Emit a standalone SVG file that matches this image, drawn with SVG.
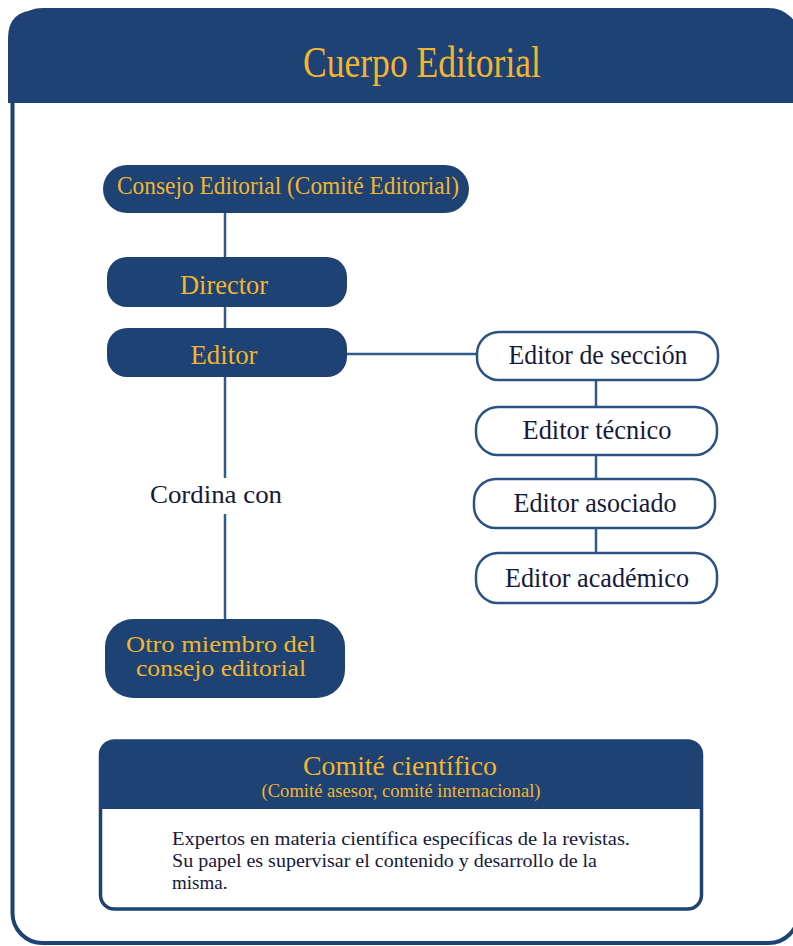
<svg xmlns="http://www.w3.org/2000/svg" width="793" height="946" viewBox="0 0 793 946">
<defs>
<style>
text{font-family:'Liberation Serif','DejaVu Serif','Times New Roman',serif;}
.dark{fill:#1d4273;}
.gold{fill:#f3b52f;text-anchor:middle;}
.ink{fill:#15193b;text-anchor:middle;}
.wbox{fill:#ffffff;stroke:#2a5384;stroke-width:2.5;}
.conn{stroke:#2f5a8a;stroke-width:2.5;fill:none;}
</style>
</defs>
<g id="frame">
<rect x="12.5" y="10" width="786" height="933" rx="30" fill="#ffffff" stroke="#1d4273" stroke-width="4"/>
<path class="dark" d="M8,103 L8,38 Q8,10 38,10 L768,10 Q798,10 798,40 L798,103 Z"/>
<text class="gold" x="422" y="77" font-size="45" textLength="238" lengthAdjust="spacingAndGlyphs">Cuerpo Editorial</text>
</g>
<g id="connectors">
<line class="conn" x1="225" y1="212" x2="225" y2="258"/>
<line class="conn" x1="225" y1="306" x2="225" y2="328"/>
<line class="conn" x1="225" y1="377" x2="225" y2="478"/>
<line class="conn" x1="225" y1="514" x2="225" y2="620"/>
<line class="conn" x1="336" y1="354" x2="478" y2="354"/>
<line class="conn" x1="596" y1="380" x2="596" y2="407"/>
<line class="conn" x1="596" y1="455" x2="596" y2="479"/>
<line class="conn" x1="596" y1="528" x2="596" y2="553"/>
</g>
<g id="consejo">
<rect class="dark" x="103" y="165" width="366" height="48" rx="24"/>
<text class="gold" x="288" y="194" font-size="25" textLength="342" lengthAdjust="spacingAndGlyphs">Consejo Editorial (Comité Editorial)</text>
</g>
<g id="director">
<rect class="dark" x="107" y="257" width="240" height="50" rx="20"/>
<text class="gold" x="224" y="294" font-size="27" textLength="88" lengthAdjust="spacingAndGlyphs">Director</text>
</g>
<g id="editor">
<rect class="dark" x="107" y="328" width="240" height="49" rx="20"/>
<text class="gold" x="224" y="364" font-size="27" textLength="67" lengthAdjust="spacingAndGlyphs">Editor</text>
</g>
<g id="cordina">
<text class="ink" x="216" y="503" font-size="26" textLength="132" lengthAdjust="spacingAndGlyphs">Cordina con</text>
</g>
<g id="otro">
<rect class="dark" x="105" y="619" width="240" height="79" rx="28"/>
<text class="gold" x="221" y="652" font-size="24" textLength="190" lengthAdjust="spacingAndGlyphs">Otro miembro del</text>
<text class="gold" x="221" y="676" font-size="24" textLength="170" lengthAdjust="spacingAndGlyphs">consejo editorial</text>
</g>
<g id="seccion">
<rect class="wbox" x="477" y="332" width="241" height="48" rx="22"/>
<text class="ink" x="598" y="364" font-size="27" textLength="179" lengthAdjust="spacingAndGlyphs">Editor de sección</text>
</g>
<g id="tecnico">
<rect class="wbox" x="476" y="407" width="241" height="48" rx="22"/>
<text class="ink" x="597" y="439" font-size="27" textLength="149" lengthAdjust="spacingAndGlyphs">Editor técnico</text>
</g>
<g id="asociado">
<rect class="wbox" x="474" y="479" width="241" height="49" rx="22"/>
<text class="ink" x="595" y="512" font-size="27" textLength="163" lengthAdjust="spacingAndGlyphs">Editor asociado</text>
</g>
<g id="academico">
<rect class="wbox" x="476" y="553" width="241" height="50" rx="22"/>
<text class="ink" x="597" y="587" font-size="27" textLength="184" lengthAdjust="spacingAndGlyphs">Editor académico</text>
</g>
<g id="comite">
<rect x="100.5" y="741" width="601" height="168" rx="14" fill="#ffffff" stroke="#1d4273" stroke-width="3.5"/>
<path class="dark" d="M99,809 L99,757 Q99,740 116,740 L686,740 Q703,740 703,757 L703,809 Z"/>
<text class="gold" x="400" y="775" font-size="27" textLength="194" lengthAdjust="spacingAndGlyphs">Comité científico</text>
<text class="gold" x="401" y="797" font-size="18" textLength="279" lengthAdjust="spacingAndGlyphs">(Comité asesor, comité internacional)</text>
<text class="ink" x="172" y="845" font-size="19" style="text-anchor:start" textLength="458" lengthAdjust="spacingAndGlyphs">Expertos en materia científica específicas de la revistas.</text>
<text class="ink" x="172" y="867" font-size="19" style="text-anchor:start" textLength="425" lengthAdjust="spacingAndGlyphs">Su papel es supervisar el contenido y desarrollo de la</text>
<text class="ink" x="172" y="889" font-size="19" style="text-anchor:start">misma.</text>
</g>
</svg>
